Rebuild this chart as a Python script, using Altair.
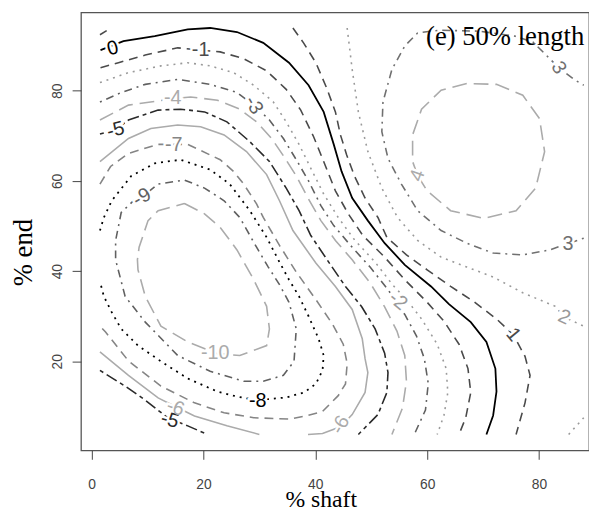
import altair as alt
import pandas as pd

# ---------------- traced contour lines (x = % shaft, y = % end) ----------------
L0_X = [1.6, 5.7, 11.3, 17.2, 21.2, 26.0, 30.7, 35.3, 38.8, 41.5, 43.3, 44.7, 46.6, 49.4, 52.4, 56.0, 60.7, 63.9, 67.8, 70.6, 72.2, 72.4, 71.8, 70.6]
L0_Y = [89.0, 91.0, 92.1, 93.6, 93.9, 93.0, 90.6, 86.2, 81.2, 75.3, 68.1, 62.1, 56.2, 51.2, 46.2, 41.4, 36.6, 32.7, 28.7, 24.3, 18.4, 13.3, 8.0, 3.8]

LM1_X = [1.6, 4.8, 9.6, 15.4, 19.5, 23.0, 27.2, 31.3, 34.8, 37.4, 39.7, 41.5, 43.6, 45.9, 48.5, 52.4, 56.0, 60.0, 63.0, 65.7, 67.3, 67.8, 66.9, 65.7]
LM1_Y = [85.1, 86.2, 87.9, 89.5, 89.0, 88.6, 87.1, 84.4, 80.3, 75.7, 69.8, 64.3, 57.8, 52.7, 47.9, 43.1, 38.1, 33.1, 28.9, 23.8, 18.4, 13.1, 7.5, 3.8]

LM2_X = [1.5, 6.6, 12.4, 17.2, 21.2, 25.4, 29.0, 32.5, 34.8, 37.1, 39.2, 41.5, 44.1, 47.1, 50.7, 53.8, 56.3, 59.0, 61.8, 63.4, 63.7, 63.0, 61.8]
LM2_Y = [81.8, 84.0, 85.5, 86.2, 85.5, 84.0, 81.2, 77.5, 73.1, 68.1, 62.8, 57.1, 51.9, 46.8, 42.0, 37.0, 33.7, 29.4, 23.8, 18.4, 13.1, 8.0, 3.8]

LM3_X = [1.5, 5.3, 9.6, 15.4, 21.2, 26.0, 29.0, 31.8, 34.3, 36.6, 38.8, 41.0, 43.3, 46.3, 49.8, 53.0, 56.0, 58.1, 59.5, 60.2, 59.7, 57.7]
LM3_Y = [77.5, 79.6, 81.4, 82.5, 81.4, 79.6, 76.8, 73.5, 69.4, 64.7, 60.0, 54.5, 50.1, 45.7, 40.9, 35.9, 30.4, 25.6, 20.6, 15.1, 9.2, 3.8]

LM4_X = [1.5, 6.6, 14.5, 17.7, 22.5, 26.5, 29.5, 32.2, 34.4, 36.6, 38.7, 41.0, 43.6, 46.6, 49.8, 52.4, 54.6, 56.0, 56.3, 55.6, 53.7]
LM4_Y = [73.5, 76.8, 78.2, 78.6, 77.9, 75.9, 73.1, 69.4, 65.4, 61.1, 56.2, 51.2, 46.8, 42.5, 37.4, 32.1, 26.7, 21.3, 15.6, 9.7, 3.8]

LM5A_X = [1.5, 4.3, 6.6, 11.9, 15.9, 20.2, 24.2, 28.3, 31.8, 34.8, 37.1, 39.2, 42.4, 45.4, 48.3, 50.7, 52.4, 53.0, 52.8, 51.2, 47.7]
LM5A_Y = [70.4, 71.3, 73.5, 75.7, 75.9, 75.3, 73.1, 68.7, 64.3, 58.4, 53.4, 47.9, 42.0, 36.6, 32.1, 27.2, 21.8, 17.5, 13.1, 8.2, 3.8]
LM5B_X = [1.5, 6.0, 9.6, 13.6, 17.2, 20.7]
LM5B_Y = [18.0, 14.5, 11.4, 7.5, 5.7, 3.8]

LM6A_X = [1.5, 6.6, 10.6, 15.4, 19.5, 23.7, 27.7, 31.3, 33.6, 36.0, 40.1, 43.6, 46.6, 48.4, 48.9, 49.4, 48.9, 46.6, 44.5, 41.3, 38.7]
LM6A_Y = [64.3, 69.4, 71.6, 72.4, 72.0, 70.2, 66.5, 61.4, 55.6, 49.0, 41.8, 36.6, 31.5, 25.0, 20.6, 17.5, 13.1, 8.2, 5.5, 4.0, 3.8]
LM6B_X = [1.5, 6.6, 11.9, 15.4, 18.4, 24.2, 30.0]
LM6B_Y = [22.1, 16.9, 11.9, 9.7, 7.9, 5.7, 3.8]

LM7_X = [1.5, 3.4, 6.6, 11.9, 15.0, 17.2, 23.0, 25.4, 27.2, 29.5, 30.7, 33.6, 36.6, 40.1, 43.1, 45.0, 45.7, 45.4, 44.1, 41.3, 38.3, 35.3, 29.0, 23.7, 18.4, 12.4, 6.6, 2.5, 1.5]
LM7_Y = [59.3, 63.2, 66.1, 68.1, 68.1, 68.1, 64.7, 62.1, 59.3, 54.9, 51.9, 45.7, 39.8, 33.7, 28.2, 23.8, 19.5, 15.0, 12.4, 8.9, 7.9, 7.2, 7.5, 8.6, 10.8, 14.5, 20.1, 26.5, 27.8]

LM8_X = [1.5, 2.2, 3.6, 7.1, 11.3, 15.9, 21.2, 24.7, 28.3, 31.3, 33.6, 35.3, 37.1, 38.8, 40.6, 41.5, 41.3, 40.1, 38.0, 34.8, 29.5, 26.0, 22.5, 17.2, 12.4, 8.3, 5.3, 3.6, 2.2, 1.5]
LM8_Y = [49.0, 51.9, 55.6, 61.1, 63.9, 64.7, 62.5, 59.3, 53.4, 47.5, 42.0, 38.1, 34.4, 30.0, 25.0, 21.3, 18.0, 15.0, 13.1, 12.0, 11.4, 12.2, 13.3, 16.2, 20.0, 23.5, 27.2, 30.9, 34.4, 37.7]

LM9_X = [9.2, 11.9, 16.6, 20.2, 23.7, 26.5, 29.5, 31.6, 33.6, 35.3, 36.6, 36.2, 34.3, 30.7, 27.2, 21.2, 15.4, 9.6, 6.0, 4.3, 4.3, 5.3, 7.5, 9.2]
LM9_Y = [56.6, 59.3, 60.2, 58.4, 55.6, 51.9, 45.3, 40.9, 37.0, 33.1, 27.2, 20.0, 16.9, 15.6, 15.6, 17.8, 21.3, 28.7, 34.4, 42.5, 46.8, 53.0, 55.6, 56.6]

LM10_X = [16.6, 20.2, 23.0, 26.0, 29.0, 31.3, 31.8, 31.3, 26.5, 22.5, 17.2, 12.4, 9.6, 8.3, 8.2, 8.5, 10.1, 11.9, 16.6]
LM10_Y = [55.0, 52.7, 49.7, 44.7, 38.1, 32.2, 27.2, 23.5, 21.3, 21.7, 24.3, 27.8, 34.4, 40.3, 42.5, 45.3, 51.2, 53.4, 55.0]

L1A_X = [36.0, 37.9, 40.1, 42.0, 43.6, 44.5, 45.6, 47.0, 48.9, 51.2, 52.8, 56.3, 60.0, 64.2, 68.3, 72.4, 75.4, 77.5, 78.4, 77.5, 75.9]
L1A_Y = [93.9, 90.6, 86.2, 80.7, 75.3, 70.2, 65.8, 61.1, 56.2, 51.9, 47.5, 43.6, 40.3, 36.6, 33.3, 29.4, 25.9, 21.1, 16.9, 10.8, 3.8]
L1B_X = [1.5, 2.7]
L1B_Y = [92.4, 93.3]

L2A_X = [45.7, 46.6, 47.7, 49.4, 51.9, 54.7, 58.3, 62.5, 67.1, 71.8, 77.1, 82.9, 84.5, 88.0]
L2A_Y = [93.9, 84.7, 75.3, 66.5, 58.4, 51.9, 46.8, 43.1, 40.9, 38.7, 35.2, 32.2, 29.8, 27.8]
L2B_X = [85.3, 88.0]
L2B_Y = [3.8, 7.5]

L3_X = [88.0, 85.1, 81.9, 77.1, 71.8, 67.1, 62.5, 58.3, 55.4, 53.0, 51.9, 52.1, 53.7, 56.0, 58.3, 62.1, 69.2, 75.7, 78.9, 81.2, 83.5, 86.5, 88.0]
L3_Y = [47.3, 46.1, 44.7, 43.6, 44.0, 46.2, 49.0, 53.4, 59.3, 65.0, 70.9, 77.5, 84.7, 89.9, 92.8, 93.4, 93.2, 92.1, 90.8, 88.0, 85.1, 82.3, 81.2]

L4_X = [58.3, 60.0, 64.2, 70.1, 75.9, 79.4, 81.0, 80.1, 77.1, 72.4, 67.1, 62.5, 59.0, 57.4, 57.4, 58.3]
L4_Y = [61.2, 57.8, 53.4, 51.7, 53.4, 58.4, 66.5, 73.8, 79.0, 81.4, 81.6, 80.1, 75.9, 70.2, 64.3, 61.2]

PIECES = [
    (0, L0_X, L0_Y), (-1, LM1_X, LM1_Y), (-2, LM2_X, LM2_Y), (-3, LM3_X, LM3_Y),
    (-4, LM4_X, LM4_Y), (-5, LM5A_X, LM5A_Y), (-5, LM5B_X, LM5B_Y),
    (-6, LM6A_X, LM6A_Y), (-6, LM6B_X, LM6B_Y), (-7, LM7_X, LM7_Y),
    (-8, LM8_X, LM8_Y), (-9, LM9_X, LM9_Y), (-10, LM10_X, LM10_Y),
    (1, L1A_X, L1A_Y), (1, L1B_X, L1B_Y), (2, L2A_X, L2A_Y), (2, L2B_X, L2B_Y),
    (3, L3_X, L3_Y), (4, L4_X, L4_Y),
]

# contour labels
LABEL_TEXT = ["0", "-1", "-3", "-4", "-5", "-7", "-9", "-10", "-8", "-5", "-6", "-6", "-2", "1", "2", "3", "3", "4"]
LABEL_LEVEL = [0, -1, -3, -4, -5, -7, -9, -10, -8, -5, -6, -6, -2, 1, 2, 3, 3, 4]
LABEL_X = [3.8, 19.5, 29.0, 14.5, 4.3, 14.7, 9.0, 22.1, 29.7, 14.0, 15.0, 44.5, 54.8, 75.4, 84.5, 85.2, 83.5, 58.3]
LABEL_Y = [89.4, 89.0, 76.8, 78.4, 71.3, 67.9, 56.4, 21.9, 11.1, 7.0, 9.7, 5.9, 33.4, 25.9, 29.8, 46.1, 85.1, 61.2]

X_TICKS = [0, 20, 40, 60, 80]
Y_TICKS = [20, 40, 60, 80]
PANEL_TITLE = "(e) 50% length"

# ---------------- styles (R-like lty cycle) ----------------
STYLE = {
    0: ("#000000", None, 1.8),
    -1: ("#4a4a4a", [9, 6], 1.6),
    -2: ("#9a9a9a", [2, 5], 1.6),
    -3: ("#606060", [2, 5, 8, 5], 1.6),
    -4: ("#ababab", [15, 7], 1.6),
    -5: ("#2a2a2a", [4, 4, 12, 4], 1.6),
    -6: ("#ababab", None, 1.6),
    -7: ("#858585", [9, 6], 1.6),
    -8: ("#000000", [2, 5], 1.8),
    -9: ("#606060", [2, 5, 8, 5], 1.6),
    -10: ("#ababab", [15, 7], 1.6),
    1: ("#4a4a4a", [9, 6], 1.6),
    2: ("#9a9a9a", [2, 5], 1.6),
    3: ("#707070", [2, 5, 8, 5], 1.6),
    4: ("#ababab", [15, 7], 1.6),
}
LABEL_ANGLE = [345, 0, 60, 0, 345, 0, 330, 0, 0, 15, 20, 300, 40, 50, 25, 0, 60, 290]

rows = []
for pid, (lv, xs, ys) in enumerate(PIECES):
    for i, (x, y) in enumerate(zip(xs, ys)):
        rows.append({"piece": pid, "level": lv, "idx": i, "x": x, "y": y})
df = pd.DataFrame(rows)

lab = pd.DataFrame({
    "t": LABEL_TEXT, "x": LABEL_X, "y": LABEL_Y, "a": LABEL_ANGLE,
    "c": [STYLE[l][0] for l in LABEL_LEVEL],
})

xaxis = alt.Axis(values=X_TICKS, title="% shaft", grid=False, domain=False,
                 tickSize=9, tickColor="#444", tickWidth=1,
                 labelFont="Liberation Sans", labelFontSize=14, labelColor="#444",
                 labelPadding=19, labelFlush=False,
                 titleFont="Liberation Serif", titleFontSize=24, titleFontWeight="normal",
                 titleColor="#000", titleBaseline="alphabetic", titleAlign="center",
                 titleX=243, titleY=57)
yaxis = alt.Axis(values=Y_TICKS, title="% end", grid=False, domain=False,
                 tickSize=9, tickColor="#444", tickWidth=1,
                 labelFont="Liberation Sans", labelFontSize=14, labelColor="#444",
                 labelAngle=270, labelAlign="center", labelBaseline="bottom",
                 labelPadding=8, labelFlush=False,
                 titleFont="Liberation Serif", titleFontSize=27, titleFontWeight="normal",
                 titleColor="#000", titleAngle=270, titleBaseline="alphabetic",
                 titleAlign="center", titleX=-50, titleY=243)

X = alt.X("x:Q", scale=alt.Scale(domain=[-1.89, 88.94], nice=False, zero=False), axis=xaxis)
Y = alt.Y("y:Q", scale=alt.Scale(domain=[0.26, 97.35], nice=False, zero=False), axis=yaxis)

layers = []
for lv in [0, -1, -2, -3, -4, -5, -6, -7, -8, -9, -10, 1, 2, 3, 4]:
    col, dash, w = STYLE[lv]
    kw = dict(color=col, strokeWidth=w, clip=True)
    if dash:
        kw["strokeDash"] = dash
    layers.append(
        alt.Chart(df[df.level == lv]).mark_line(**kw).encode(
            x=X, y=Y, detail="piece:N", order="idx:Q")
    )

halo = alt.Chart(lab).mark_text(font="Liberation Sans", fontSize=20, color="white",
                                stroke="white", strokeWidth=5, align="center",
                                baseline="middle").encode(
    x=X, y=Y, text="t:N", angle=alt.Angle("a:Q", scale=None))
labels = alt.Chart(lab).mark_text(font="Liberation Sans", fontSize=20, align="center",
                                  baseline="middle").encode(
    x=X, y=Y, text="t:N", angle=alt.Angle("a:Q", scale=None),
    color=alt.Color("c:N", scale=None))

ttl = pd.DataFrame({"x": [59.8], "y": [90.2], "t": [PANEL_TITLE]})
title = alt.Chart(ttl).mark_text(font="Liberation Serif", fontSize=27, align="left",
                                 baseline="alphabetic", color="black").encode(
    x=X, y=Y, text="t:N")

chart = alt.layer(*layers, halo, labels, title).properties(
    width=515, height=444,
    padding={"left": 74, "top": 1, "right": 0, "bottom": 62},
    autosize=alt.AutoSizeParams(type="none"),
).configure_view(stroke="#555", strokeWidth=1.3)

chart.save("out.html", embed_options={"renderer": "svg", "actions": False})
